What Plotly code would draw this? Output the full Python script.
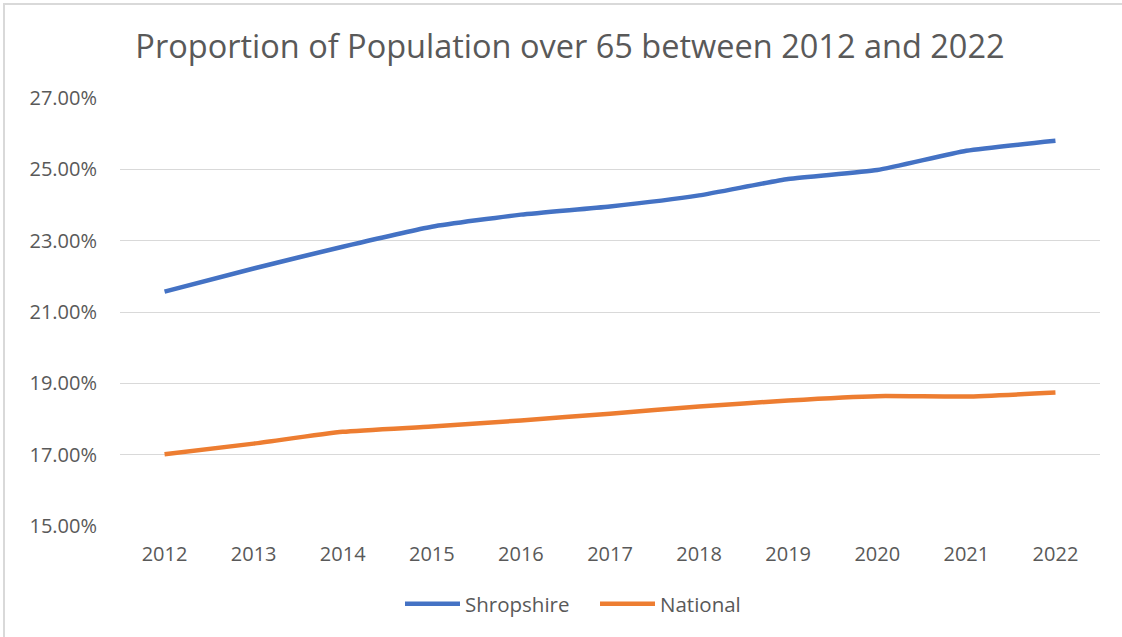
import plotly.graph_objects as go

years = ["2012", "2013", "2014", "2015", "2016", "2017", "2018", "2019", "2020", "2021", "2022"]
shropshire = [21.57, 22.22, 22.83, 23.39, 23.73, 23.96, 24.27, 24.73, 24.98, 25.52, 25.80]
national = [17.01, 17.31, 17.64, 17.79, 17.96, 18.15, 18.35, 18.52, 18.64, 18.63, 18.74]
y_ticks = [15, 17, 19, 21, 23, 25, 27]
y_ticktext = ["15.00%", "17.00%", "19.00%", "21.00%", "23.00%", "25.00%", "27.00%"]

FONT = "Open Sans"
GREY = "#595959"

fig = go.Figure()
fig.add_trace(go.Scatter(x=years, y=shropshire, name="Shropshire", mode="lines",
                         line=dict(color="#4472C4", width=4.5, shape="spline", smoothing=0.5)))
fig.add_trace(go.Scatter(x=years, y=national, name="National", mode="lines",
                         line=dict(color="#ED7D31", width=4.5, shape="spline", smoothing=0.5)))

fig.update_layout(
    width=1122, height=637,
    margin=dict(l=120, r=22, t=98, b=111),
    paper_bgcolor="white", plot_bgcolor="white",
    title=dict(text="Proportion of Population over 65 between 2012 and 2022",
               x=0.508, xanchor="center", y=1 - 47 / 637, yanchor="middle",
               font=dict(family=FONT, size=32.5, color=GREY)),
    font=dict(family=FONT, size=20, color=GREY),
    legend=dict(orientation="h", x=(400 - 120) / 980, xanchor="left",
                y=-(604 - 526) / 428, yanchor="middle",
                font=dict(family=FONT, size=20.5, color=GREY), itemwidth=55,
                entrywidth=125, entrywidthmode="pixels", tracegroupgap=0),
    showlegend=True,
)
fig.update_xaxes(type="category", range=[-0.5, 10.5], showgrid=False, showline=False,
                 zeroline=False, ticks="", ticklabelstandoff=14,
                 tickfont=dict(family=FONT, size=20, color=GREY))
fig.update_yaxes(range=[15, 27], tickvals=y_ticks, ticktext=y_ticktext, showgrid=True,
                 gridcolor="#D9D9D9", gridwidth=1.3, showline=False, zeroline=False, ticks="",
                 ticklabelstandoff=22, tickfont=dict(family=FONT, size=20, color=GREY))

# chart frame border (left and top edges visible)
fig.add_shape(type="rect", xref="paper", yref="paper",
              x0=(4 - 120) / 980, x1=(1200 - 120) / 980,
              y0=(526 - 700) / 428, y1=(526 - 4) / 428,
              line=dict(color="#D9D9D9", width=2), layer="below")

fig.write_html("out.html", config={"displayModeBar": False},
               post_script="document.body.style.margin='0';")
